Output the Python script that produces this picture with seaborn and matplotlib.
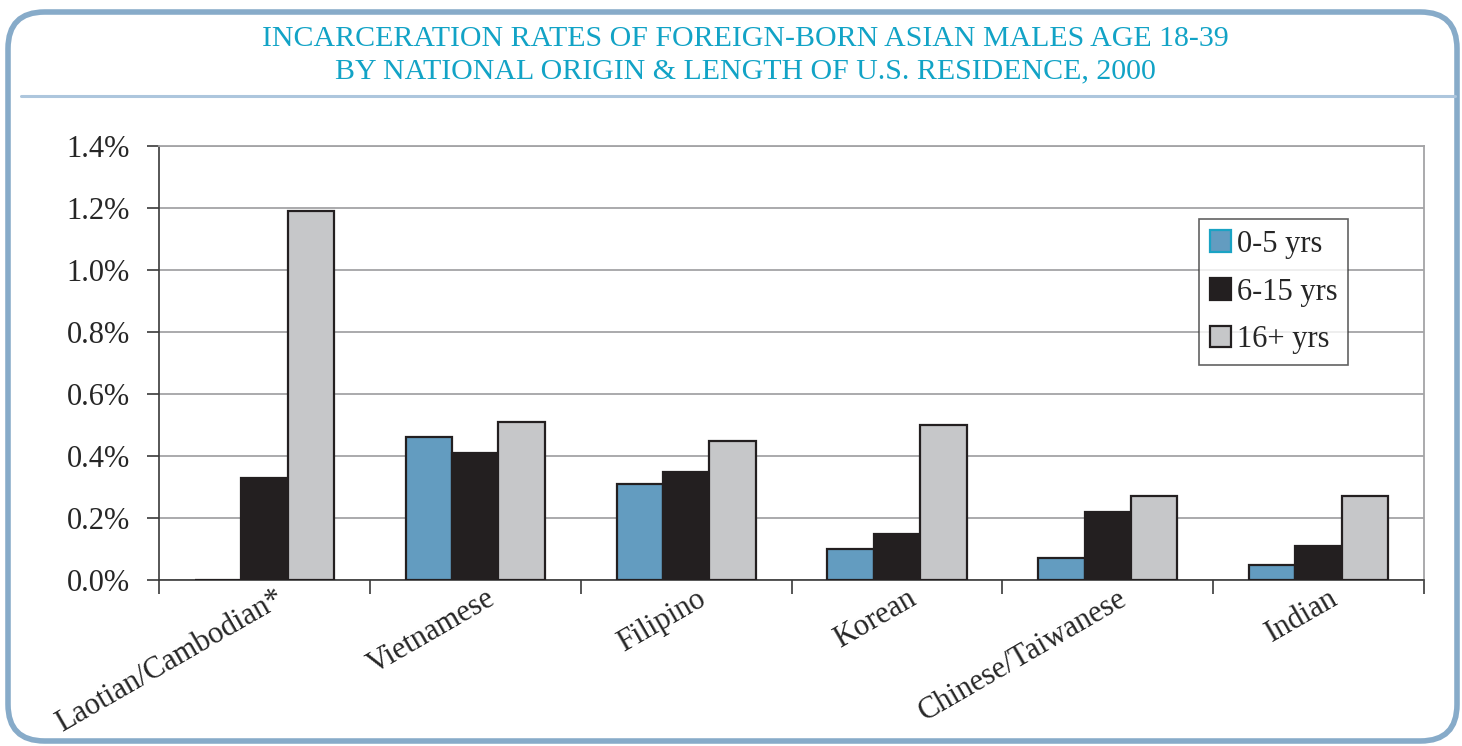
import numpy as np
import pandas as pd
import matplotlib
matplotlib.use("Agg")
import matplotlib.pyplot as plt
import seaborn as sns
from matplotlib.patches import FancyBboxPatch
from matplotlib.lines import Line2D
from matplotlib.ticker import FuncFormatter, MultipleLocator
from matplotlib.transforms import ScaledTranslation

# data (percent)
origins = ["Laotian/Cambodian*", "Vietnamese", "Filipino", "Korean",
           "Chinese/Taiwanese", "Indian"]
groups = ["0-5 yrs", "6-15 yrs", "16+ yrs"]
rate_0_5 = [0.0, 0.46, 0.31, 0.10, 0.07, 0.05]
rate_6_15 = [0.33, 0.41, 0.35, 0.15, 0.22, 0.11]
rate_16_plus = [1.19, 0.51, 0.45, 0.50, 0.27, 0.27]

title = ("INCARCERATION RATES OF FOREIGN-BORN ASIAN MALES AGE 18-39\n"
         "BY NATIONAL ORIGIN & LENGTH OF U.S. RESIDENCE, 2000")

colors = {"0-5 yrs": "#639cc0", "6-15 yrs": "#231f20", "16+ yrs": "#c6c7c9"}

df = pd.DataFrame({
    "origin": origins * 3,
    "group": [groups[0]] * 6 + [groups[1]] * 6 + [groups[2]] * 6,
    "rate": rate_0_5 + rate_6_15 + rate_16_plus,
})

sns.set_theme(style="white")
plt.rcParams["font.family"] = ["Liberation Serif", "DejaVu Serif"]

fig = plt.figure(figsize=(14.62, 7.46), dpi=100)
ax = fig.add_axes([0.1088, 0.2225, 0.9740 - 0.1088, 0.8043 - 0.2225])

sns.barplot(data=df, x="origin", y="rate", hue="group", order=origins,
            hue_order=groups, palette=colors, width=0.66, dodge=True,
            edgecolor="#231f20", linewidth=1.6, saturation=1, ax=ax,
            zorder=3)

ax.set_ylim(0, 1.4)
ax.set_xlim(-0.5, len(origins) - 0.5)
ax.yaxis.set_major_locator(MultipleLocator(0.2))
ax.yaxis.set_major_formatter(FuncFormatter(lambda v, p: f"{v:.1f}%"))
ax.grid(axis="y", color="#a4a4a6", linewidth=1.3, zorder=0)
ax.set_axisbelow(True)
ax.set_xlabel("")
ax.set_ylabel("")

for s in ["top", "right"]:
    ax.spines[s].set_color("#a4a4a6")
    ax.spines[s].set_linewidth(1.3)
for s in ["left", "bottom"]:
    ax.spines[s].set_color("#3a3a3a")
    ax.spines[s].set_linewidth(1.2)

# category ticks sit between groups, as in the original
ax.set_xticks(np.arange(len(origins)))
ax.set_xticklabels(origins, rotation=30, ha="right", rotation_mode="anchor",
                   fontsize=22)
ax.tick_params(axis="x", length=0, pad=3)
ax.set_xticks(np.arange(-0.5, len(origins)), minor=True)
ax.tick_params(axis="x", which="minor", length=10, width=1.2,
               color="#3a3a3a", direction="out", bottom=True)
ax.tick_params(axis="y", length=9, width=1.2, color="#3a3a3a",
               direction="out", left=True, labelsize=22, pad=12)
# labels end just right of the group centre
for lab in ax.get_xticklabels():
    lab.set_transform(lab.get_transform() +
                      ScaledTranslation(0.1, 0, fig.dpi_scale_trans))

handles, labels = ax.get_legend_handles_labels()
leg = ax.legend(handles, labels, loc="upper left",
                bbox_to_anchor=(0.822, 0.832), fontsize=22, frameon=True,
                fancybox=False, edgecolor="#3a3a3a", handlelength=0.7,
                handleheight=0.7, handletextpad=0.2, borderpad=0.35,
                labelspacing=0.62, borderaxespad=0)
leg.get_frame().set_linewidth(1.2)
leg.legend_handles[0].set_edgecolor("#1aa3c4")

fig.text(0.51, 1 - 55 / 746, title, ha="center", va="center", fontsize=21.5,
         color="#12a3c6", linespacing=1.3)

fig.add_artist(Line2D([21 / 1462, 1455 / 1462], [1 - 96 / 746, 1 - 96 / 746],
                      color="#adc6dd", linewidth=2.2))

border = FancyBboxPatch((8 / 1462, 1 - 741 / 746), (1457 - 8) / 1462,
                        (741 - 12) / 746,
                        boxstyle="round,pad=0,rounding_size=0.025",
                        transform=fig.transFigure, fill=False,
                        edgecolor="#87abc9", linewidth=4, mutation_aspect=1462 / 746)
fig.add_artist(border)

fig.savefig("out.png", dpi=100)
